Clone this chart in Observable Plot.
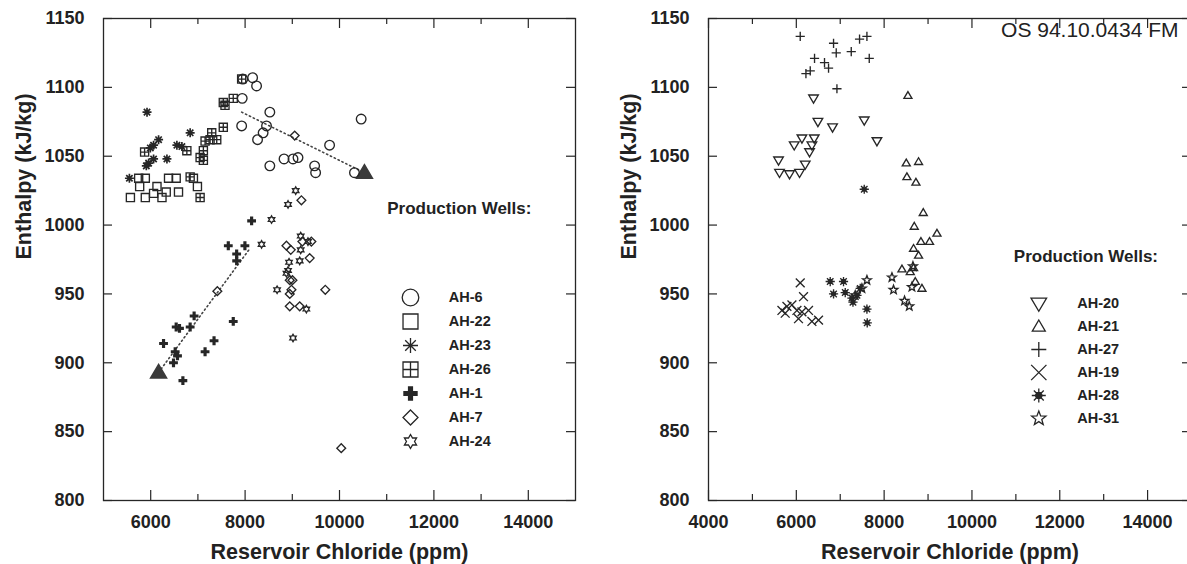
<!DOCTYPE html>
<html><head><meta charset="utf-8">
<script src="https://cdn.jsdelivr.net/npm/d3@7"></script>
<script src="https://cdn.jsdelivr.net/npm/@observablehq/plot@0.6"></script>
<style>
body{margin:0;background:#fff;}
#wrap{position:relative;width:1187px;height:564px;overflow:hidden;background:#fff;}
</style></head><body><div id="wrap"></div>
<script>
// ---------------- data (Reservoir chloride ppm, enthalpy kJ/kg) ----------------
const yLabels = [800, 850, 900, 950, 1000, 1050, 1100, 1150];
const leftXLabels = [6000, 8000, 10000, 12000, 14000];
const leftXMinor = [7000, 9000, 11000, 13000];
const rightXLabels = [4000, 6000, 8000, 10000, 12000, 14000];
const rightXMinor = [5000, 7000, 9000, 11000, 13000];

const wellsLeft = ["AH-6", "AH-22", "AH-23", "AH-26", "AH-1", "AH-7", "AH-24"];
const wellsRight = ["AH-20", "AH-21", "AH-27", "AH-19", "AH-28", "AH-31"];

const ah6 = [[7950,1106],[8159,1107],[8243,1101],[7939,1092],[8524,1082],[7927,1072],[8454,1072],[8382,1067],[8264,1062],[9790,1058],[10459,1077],[8825,1048],[9015,1048],[9121,1049],[8524,1043],[9473,1043],[9494,1038],[10317,1038]];
const ah22 = [[5745,1034],[5886,1034],[6378,1034],[6540,1034],[6905,1034],[5766,1028],[6133,1028],[6990,1028],[5570,1020],[5886,1020],[6061,1023],[6239,1020],[6329,1024],[6589,1024]];
const ah23 = [[5922,1082],[6836,1067],[6167,1062],[6061,1058],[5992,1056],[6555,1058],[6661,1057],[6061,1048],[5956,1045],[5907,1043],[6344,1048],[5549,1034]];
const ah26 = [[5871,1053],[6766,1054],[7152,1061],[7293,1067],[7258,1062],[7399,1062],[7116,1054],[7047,1049],[7116,1047],[7538,1071],[7538,1089],[7574,1087],[7749,1092],[7927,1106],[6836,1035],[7047,1020]];
const ah1 = [[8138,1003],[7644,985],[7996,985],[7821,979],[7821,974],[6920,934],[6836,926],[6540,926],[6610,925],[7749,930],[6272,914],[6519,908],[6568,905],[6483,900],[7152,908],[7342,916],[6682,887]];
const ah7 = [[9051,1065],[9193,1018],[8876,985],[8967,982],[9214,988],[9404,988],[9368,976],[7412,952],[8982,953],[8946,950],[9699,953],[8946,941],[9157,941],[10037,838],[8946,960],[9003,960]];
const ah24 = [[8560,1004],[8349,986],[8678,953],[9298,939],[9015,918],[9072,1025],[8910,1015],[9178,992],[9332,988],[9178,982],[9157,974],[8931,973],[8910,967],[8876,965]];
const endMembers = [[6167,893],[10528,1038]];
const trendLow = [[6167,893],[8102,983]];
const trendHigh = [[7927,1082],[10528,1038]];

const ah20 = [[6392,1092],[6492,1075],[6825,1071],[7547,1076],[7836,1061],[6128,1063],[6408,1063],[5952,1058],[6355,1058],[6301,1053],[5595,1047],[6203,1044],[5617,1038],[5845,1037],[6073,1038]];
const ah21 = [[8542,1094],[8504,1045],[8784,1046],[8519,1035],[8724,1031],[8891,1009],[8686,999],[9203,994],[8838,988],[9034,988],[8670,983],[8784,978],[8406,968],[8595,966],[8670,969],[8709,959],[8861,954]];
const ah27 = [[6089,1137],[6848,1132],[6909,1125],[7440,1135],[7608,1137],[7251,1126],[7661,1121],[6415,1121],[6317,1112],[6219,1110],[6642,1118],[6734,1114],[6925,1099]];
const ah19 = [[6089,958],[6164,948],[5672,938],[5786,941],[5900,942],[6014,938],[6128,937],[5747,936],[6278,938],[6050,932],[6355,930],[6506,931]];
const ah28 = [[7547,1026],[6772,959],[6848,950],[7075,959],[7114,951],[7267,947],[7290,944],[7381,949],[7456,954],[7608,939],[7615,929]];
const ah31 = [[7608,960],[8178,962],[8214,953],[8633,955],[8656,970],[8465,945],[8572,941],[7494,954],[7342,949]];

const seriesLeft = {"AH-6": ah6, "AH-22": ah22, "AH-23": ah23, "AH-26": ah26, "AH-1": ah1, "AH-7": ah7, "AH-24": ah24};
const seriesRight = {"AH-20": ah20, "AH-21": ah21, "AH-27": ah27, "AH-19": ah19, "AH-28": ah28, "AH-31": ah31};

// ---------------- symbols ----------------
const R = s => Math.sqrt(s / Math.PI);
function poly(c, pts){ c.moveTo(pts[0][0], pts[0][1]); for (let i = 1; i < pts.length; i++) c.lineTo(pts[i][0], pts[i][1]); c.closePath(); }
const sym = {
  circle: {draw(c, s){ const r = R(s); c.moveTo(r, 0); c.arc(0, 0, r, 0, 2 * Math.PI); }},
  square: {draw(c, s){ const r = R(s) * 0.88; c.rect(-r, -r, 2 * r, 2 * r); }},
  grid: {draw(c, s){ const r = R(s) * 0.88; c.rect(-r, -r, 2 * r, 2 * r); c.moveTo(-r, 0); c.lineTo(r, 0); c.moveTo(0, -r); c.lineTo(0, r); }},
  aster: {draw(c, s){ const r = R(s); for (let k = 0; k < 4; k++){ const a = k * Math.PI / 4; c.moveTo(-r * Math.cos(a), -r * Math.sin(a)); c.lineTo(r * Math.cos(a), r * Math.sin(a)); } }},
  thickPlus: {draw(c, s){ const r = R(s), w = r * 0.36; poly(c, [[-w,-r],[w,-r],[w,-w],[r,-w],[r,w],[w,w],[w,r],[-w,r],[-w,w],[-r,w],[-r,-w],[-w,-w]]); }},
  diamond: {draw(c, s){ const r = R(s); poly(c, [[0,-r],[r,0],[0,r],[-r,0]]); }},
  hexagram: {draw(c, s){ const r = R(s), ri = r / Math.sqrt(3); const pts = []; for (let k = 0; k < 12; k++){ const a = -Math.PI / 2 + k * Math.PI / 6; const rr = k % 2 ? ri : r; pts.push([rr * Math.cos(a), rr * Math.sin(a)]); } poly(c, pts); }},
  triDown: {draw(c, s){ const r = R(s); poly(c, [[-r,-0.7*r],[r,-0.7*r],[0,r]]); }},
  triUp: {draw(c, s){ const r = R(s); poly(c, [[0,-r],[r,0.7*r],[-r,0.7*r]]); }},
  plus: {draw(c, s){ const r = R(s); c.moveTo(-r, 0); c.lineTo(r, 0); c.moveTo(0, -r); c.lineTo(0, r); }},
  times: {draw(c, s){ const r = R(s) * 0.85; c.moveTo(-r, -r); c.lineTo(r, r); c.moveTo(-r, r); c.lineTo(r, -r); }},
  sun: {draw(c, s){ const r = R(s), ri = r * 0.45; c.moveTo(ri, 0); c.arc(0, 0, ri, 0, 2 * Math.PI); for (let k = 0; k < 8; k++){ const a = k * Math.PI / 4; c.moveTo(ri * Math.cos(a), ri * Math.sin(a)); c.lineTo(r * Math.cos(a), r * Math.sin(a)); } }},
  star: {draw(c, s){ const r = R(s), ri = r * 0.42; const pts = []; for (let k = 0; k < 10; k++){ const a = -Math.PI / 2 + k * Math.PI / 5; const rr = k % 2 ? ri : r; pts.push([rr * Math.cos(a), rr * Math.sin(a)]); } poly(c, pts); }}
};
const INK = "#262626";
const look = {
  "AH-6":  {symbol: sym.circle, r: 4.8, lr: 8.3},
  "AH-22": {symbol: sym.square, r: 4.6, lr: 8.5},
  "AH-23": {symbol: sym.aster, r: 4.5, lr: 7.5, sw: 1.7},
  "AH-26": {symbol: sym.grid, r: 4.6, lr: 8.5},
  "AH-1":  {symbol: sym.thickPlus, r: 4.4, lr: 7.2, fill: INK, noStroke: true},
  "AH-7":  {symbol: sym.diamond, r: 4.4, lr: 7.5},
  "AH-24": {symbol: sym.hexagram, r: 3.7, lr: 7},
  "AH-20": {symbol: sym.triDown, r: 4.8, lr: 7.8},
  "AH-21": {symbol: sym.triUp, r: 4.0, lr: 6.5},
  "AH-27": {symbol: sym.plus, r: 4.6, lr: 7.5},
  "AH-19": {symbol: sym.times, r: 5.2, lr: 9},
  "AH-28": {symbol: sym.sun, r: 4.6, lr: 7, fill: INK},
  "AH-31": {symbol: sym.star, r: 4.6, lr: 7.5}
};
function dotOpts(w, extra){
  const st = look[w];
  return {symbol: st.symbol, fill: st.fill || "none", stroke: st.noStroke ? "none" : INK, strokeWidth: st.sw || 1.35, ...extra};
}

// ---------------- layout ----------------
const FONT = '"Liberation Sans", Arial, Helvetica, sans-serif';
const W = 600, H = 564, MT = 18, MB = 64;
const innerH = H - MT - MB;

function panel({ml, mr, xDomain, xLabels, xMinor, series, extra}){
  const innerW = W - ml - mr;
  const major = 10, minor = 6, ylen = 9;
  const marks = [
    Plot.frame({stroke: INK, strokeWidth: 1.3}),
    Plot.tickX(xLabels, {x: d => d, insetTop: innerH - major, stroke: INK, strokeWidth: 1.2}),
    Plot.tickX(xMinor, {x: d => d, insetTop: innerH - minor, stroke: INK, strokeWidth: 1.2}),
    Plot.tickX(xLabels, {x: d => d, insetBottom: innerH - major, stroke: INK, strokeWidth: 1.2}),
    Plot.tickX(xMinor, {x: d => d, insetBottom: innerH - minor, stroke: INK, strokeWidth: 1.2}),
    Plot.tickY(yLabels, {y: d => d, insetRight: innerW - ylen, stroke: INK, strokeWidth: 1.2}),
    Plot.tickY(yLabels, {y: d => d, insetLeft: innerW - ylen, stroke: INK, strokeWidth: 1.2}),
    Plot.axisX(xLabels, {tickSize: 0, tickPadding: 15, fontSize: 18, fontWeight: "bold", label: null, tickFormat: d => String(d), fill: "#222"}),
    Plot.axisY(yLabels, {tickSize: 0, tickPadding: 19, fontSize: 18, fontWeight: "bold", label: null, tickFormat: d => String(d), fill: "#222"}),
    Plot.text(["Reservoir Chloride (ppm)"], {text: d => d, frameAnchor: "bottom", dy: 52, lineAnchor: "middle", fontSize: 21.5, fontWeight: "bold", fill: "#222"}),
    Plot.text(["Enthalpy (kJ/kg)"], {text: d => d, frameAnchor: "left", dx: -79, rotate: -90, lineAnchor: "middle", fontSize: 21.5, fontWeight: "bold", fill: "#222"}),
    ...(extra || []),
    ...Object.entries(series).map(([w, data]) => Plot.dot(data, dotOpts(w, {x: d => d[0], y: d => d[1], r: look[w].r})))
  ];
  return Plot.plot({
    width: W, height: H, marginLeft: ml, marginRight: mr, marginTop: MT, marginBottom: MB,
    x: {domain: xDomain}, y: {domain: [800, 1150]},
    style: {fontFamily: FONT, background: "transparent", overflow: "visible", color: "#222"},
    marks
  });
}

function legend(wells, {width, height, titleDx, titleDy, r0, r1, symDx, labDx}){
  return Plot.plot({
    width, height, marginTop: 0, marginRight: 0, marginBottom: 0, marginLeft: 0,
    y: {type: "point", domain: wells, range: [r0, r1], axis: null},
    style: {fontFamily: FONT, background: "transparent", overflow: "visible", color: "#222"},
    marks: [
      Plot.text(["Production Wells:"], {text: d => d, frameAnchor: "top-left", dx: titleDx, dy: titleDy, textAnchor: "start", lineAnchor: "middle", fontSize: 17, fontWeight: "bold", fill: "#222"}),
      ...wells.map(w => Plot.dot([w], dotOpts(w, {y: d => d, frameAnchor: "left", dx: symDx, r: look[w].lr, strokeWidth: 1.3}))),
      Plot.text(wells, {y: d => d, text: d => d, frameAnchor: "left", dx: labDx, textAnchor: "start", fontSize: 14.5, fontWeight: "bold", fill: "#222"})
    ]
  });
}

const left = panel({
  ml: 103, mr: 25, xDomain: [5000, 15000], xLabels: leftXLabels, xMinor: leftXMinor, series: seriesLeft,
  extra: [
    Plot.line(trendLow, {x: d => d[0], y: d => d[1], stroke: "#444", strokeWidth: 1.6, strokeDasharray: "1.3 3"}),
    Plot.line(trendHigh, {x: d => d[0], y: d => d[1], stroke: "#444", strokeWidth: 1.6, strokeDasharray: "1.3 3"}),
    Plot.dot(endMembers, {x: d => d[0], y: d => d[1], symbol: sym.triUp, r: 8, fill: "#3a3a3a", stroke: "#3a3a3a"})
  ]
});
const right = panel({
  ml: 108, mr: 9, xDomain: [4000, 15000], xLabels: rightXLabels, xMinor: rightXMinor, series: seriesRight,
  extra: [
    Plot.text(["OS 94.10.0434 FM"], {text: d => d, frameAnchor: "top-right", dx: -13, dy: 12, textAnchor: "end", lineAnchor: "middle", fontSize: 21, fill: "#222"})
  ]
});
const legL = legend(wellsLeft, {width: 190, height: 280, titleDx: 6.7, titleDy: 18.3, r0: 95, r1: 263, symDx: 30, labDx: 68.3});
const legR = legend(wellsRight, {width: 187, height: 215, titleDx: 13.3, titleDy: 20.8, r0: 55.7, r1: 195, symDx: 38.3, labDx: 76.7});

const wrap = document.getElementById("wrap");
function place(el, x, y){ el.style.position = "absolute"; el.style.left = x + "px"; el.style.top = y + "px"; wrap.appendChild(el); }
place(left, 0, 0);
place(right, 600, 0);
place(legL, 380, 190);
place(legR, 1000, 235);
</script>
</body></html>
